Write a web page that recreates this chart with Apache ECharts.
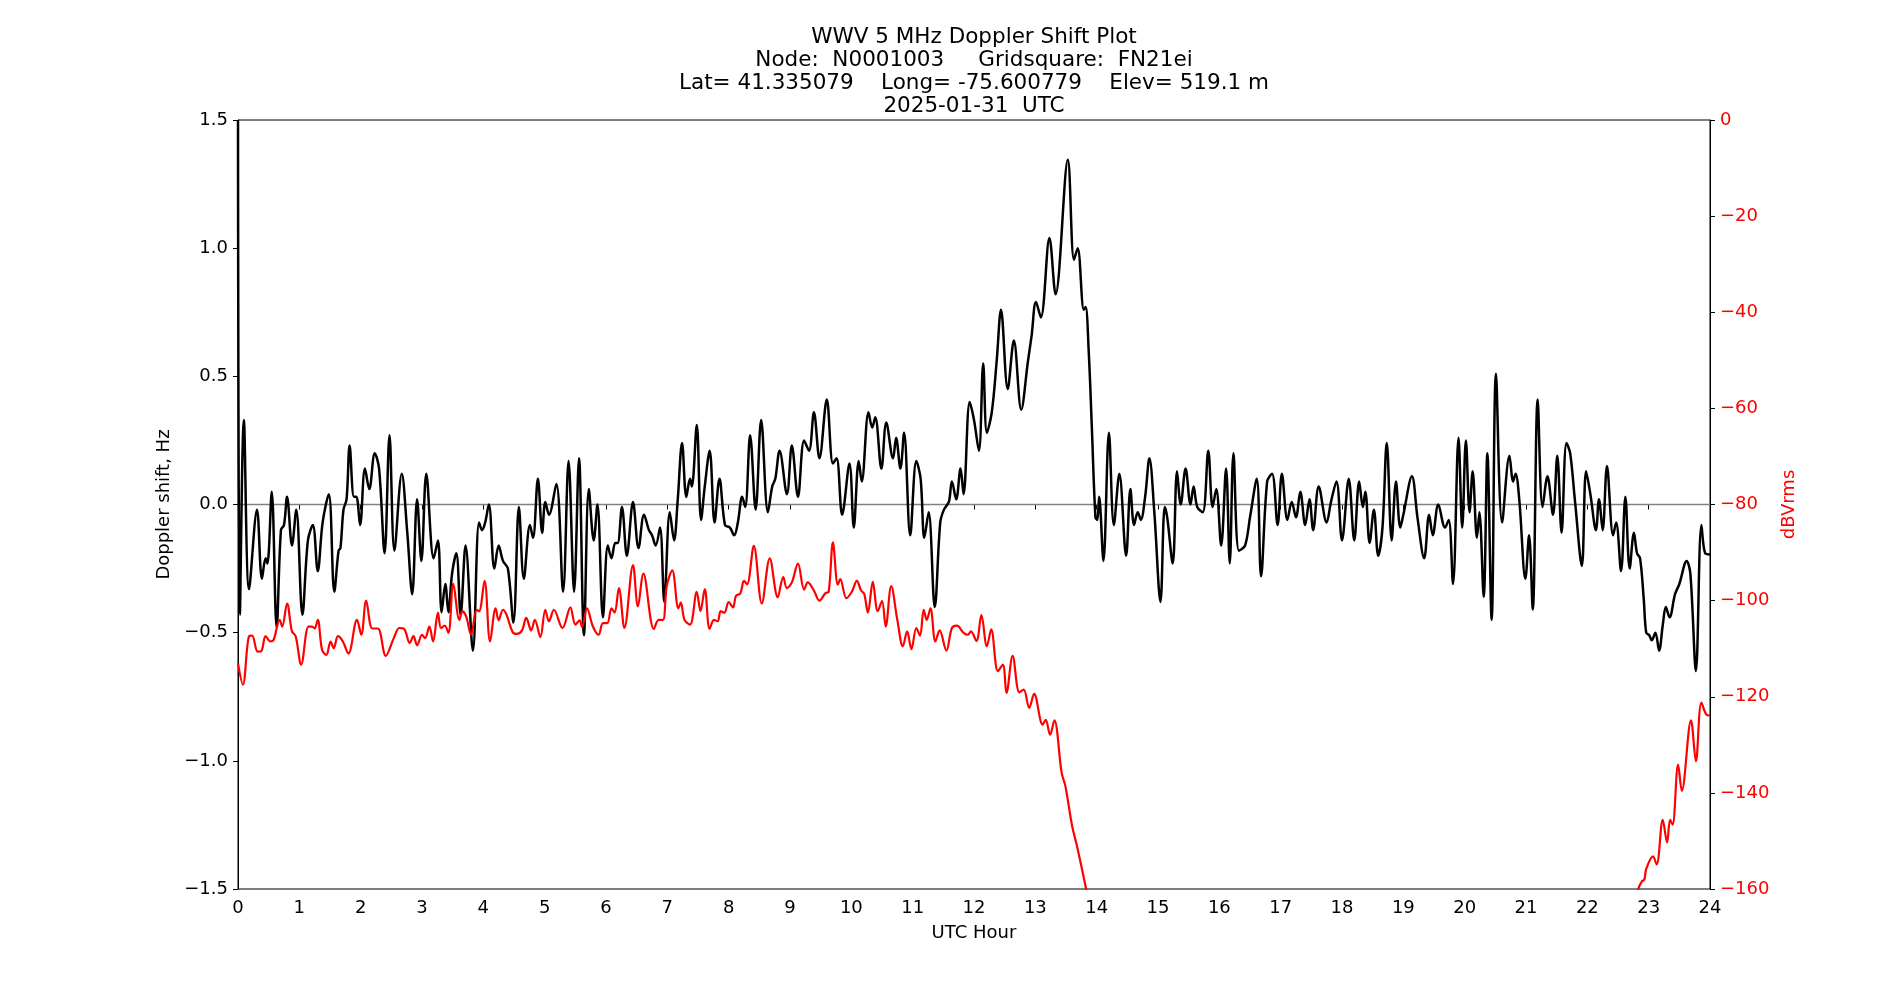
<!DOCTYPE html>
<html><head><meta charset="utf-8">
<script src="https://cdn.jsdelivr.net/npm/echarts@6/dist/echarts.min.js"></script>
<style>html,body{margin:0;padding:0;background:#fff}#c{width:1900px;height:1000px}</style>
</head><body><div id="c"></div>
<script>
const titleLines = [
  'WWV 5 MHz Doppler Shift Plot',
  'Node:  N0001003     Gridsquare:  FN21ei',
  'Lat= 41.335079    Long= -75.600779    Elev= 519.1 m',
  '2025-01-31  UTC'
];
const xLabel = 'UTC Hour';
const leftLabel = 'Doppler shift, Hz';
const rightLabel = 'dBVrms';

const dopplerHours = [0.00,0.03,0.095,0.18,0.31,0.39,0.45,0.48,0.55,0.63,0.70,0.75,0.80,0.88,0.95,1.05,1.14,1.22,1.30,1.38,1.48,1.57,1.64,1.67,1.72,1.77,1.82,1.89,1.93,1.99,2.07,2.14,2.23,2.30,2.39,2.47,2.55,2.67,2.76,2.84,2.92,2.99,3.07,3.19,3.26,3.32,3.38,3.43,3.49,3.56,3.63,3.71,3.83,3.93,3.98,4.03,4.09,4.18,4.25,4.32,4.40,4.49,4.58,4.66,4.76,4.81,4.89,4.96,5.01,5.07,5.19,5.30,5.39,5.48,5.56,5.64,5.72,5.80,5.86,5.95,6.03,6.09,6.15,6.19,6.26,6.34,6.44,6.53,6.62,6.70,6.75,6.81,6.88,6.95,7.04,7.11,7.17,7.24,7.31,7.37,7.40,7.48,7.55,7.61,7.69,7.77,7.85,7.94,8.02,8.09,8.15,8.22,8.27,8.35,8.44,8.53,8.64,8.71,8.76,8.83,8.95,9.03,9.13,9.23,9.31,9.39,9.48,9.60,9.70,9.76,9.85,9.97,10.04,10.12,10.17,10.28,10.34,10.39,10.49,10.57,10.68,10.73,10.80,10.86,10.96,11.06,11.13,11.19,11.26,11.36,11.45,11.51,11.59,11.64,11.71,11.78,11.83,11.93,12.00,12.08,12.15,12.21,12.29,12.37,12.44,12.55,12.65,12.77,12.88,12.94,13.01,13.09,13.23,13.33,13.53,13.63,13.69,13.79,13.82,13.87,13.92,13.98,14.01,14.04,14.11,14.20,14.28,14.37,14.48,14.55,14.61,14.67,14.72,14.79,14.86,14.94,15.04,15.11,15.15,15.24,15.31,15.37,15.45,15.53,15.58,15.64,15.73,15.82,15.89,15.95,16.03,16.11,16.17,16.23,16.32,16.42,16.50,16.61,16.68,16.78,16.86,16.95,17.02,17.11,17.18,17.25,17.32,17.40,17.47,17.53,17.62,17.75,17.82,17.91,18.00,18.11,18.20,18.28,18.34,18.38,18.45,18.52,18.59,18.66,18.73,18.81,18.88,18.95,19.00,19.14,19.23,19.34,19.42,19.48,19.57,19.68,19.74,19.81,19.90,19.96,20.02,20.08,20.13,20.20,20.24,20.31,20.37,20.44,20.51,20.61,20.73,20.79,20.83,20.89,20.99,21.05,21.11,21.19,21.27,21.35,21.44,21.51,21.58,21.66,21.72,21.80,21.91,21.98,22.05,22.14,22.19,22.25,22.32,22.42,22.47,22.55,22.62,22.69,22.76,22.81,22.86,22.92,22.96,23.01,23.05,23.11,23.17,23.23,23.28,23.34,23.43,23.50,23.62,23.68,23.77,23.86,23.92,24.00];
const dopplerHz = [1.50,-0.43,0.33,-0.33,-0.02,-0.29,-0.21,-0.23,0.05,-0.48,-0.10,-0.08,0.03,-0.16,-0.02,-0.43,-0.14,-0.08,-0.26,-0.07,0.04,-0.34,-0.18,-0.17,-0.02,0.02,0.23,0.03,0.03,-0.08,0.14,0.06,0.20,0.14,-0.19,0.27,-0.18,0.12,-0.11,-0.35,0.02,-0.22,0.12,-0.21,-0.14,-0.42,-0.31,-0.42,-0.27,-0.19,-0.43,-0.16,-0.57,-0.07,-0.10,-0.07,0.00,-0.25,-0.16,-0.22,-0.25,-0.46,-0.01,-0.29,-0.08,-0.13,0.10,-0.11,0.01,-0.04,0.08,-0.34,0.17,-0.34,0.18,-0.51,0.06,-0.14,0.00,-0.44,-0.16,-0.21,-0.15,-0.15,-0.01,-0.20,0.01,-0.17,-0.04,-0.10,-0.12,-0.16,-0.09,-0.38,-0.03,-0.14,0.02,0.24,0.03,0.10,0.07,0.31,-0.06,0.07,0.21,-0.07,0.10,-0.08,-0.09,-0.12,-0.07,0.03,-0.01,0.27,-0.02,0.33,-0.03,0.07,0.10,0.21,0.04,0.23,0.03,0.25,0.21,0.36,0.18,0.41,0.16,0.18,-0.04,0.16,-0.09,0.17,0.09,0.36,0.30,0.34,0.14,0.32,0.18,0.26,0.14,0.28,-0.12,0.17,0.10,-0.13,-0.03,-0.40,-0.07,-0.02,0.01,0.09,0.02,0.14,0.04,0.40,0.33,0.21,0.55,0.28,0.36,0.56,0.76,0.45,0.64,0.37,0.56,0.66,0.79,0.73,1.04,0.82,1.345,0.955,1.00,0.76,0.77,0.60,0.31,-0.05,-0.06,0.03,-0.22,0.28,-0.08,0.12,-0.20,0.06,-0.08,-0.03,-0.06,0.03,0.18,-0.03,-0.38,-0.01,-0.05,-0.23,0.13,0.00,0.14,0.00,0.07,-0.01,-0.03,0.21,-0.01,0.06,-0.16,0.14,-0.23,0.20,-0.18,-0.16,-0.05,0.10,-0.28,0.09,0.12,-0.08,0.12,-0.06,0.01,-0.05,0.05,-0.08,0.02,-0.10,0.07,-0.07,0.01,0.09,-0.14,0.10,-0.14,0.09,-0.01,0.05,-0.15,-0.02,-0.20,-0.09,0.24,-0.14,0.09,-0.09,-0.04,0.11,-0.05,-0.21,-0.04,-0.12,0.00,-0.09,-0.06,-0.31,0.26,-0.09,0.25,-0.03,0.13,-0.13,-0.03,-0.36,0.20,-0.45,0.51,-0.07,0.19,0.09,0.12,0.02,-0.29,-0.12,-0.41,0.41,-0.01,0.11,-0.04,0.19,-0.11,0.24,0.20,0.01,-0.24,0.13,0.04,-0.10,0.02,-0.10,0.15,-0.12,-0.07,-0.26,0.03,-0.25,-0.11,-0.19,-0.21,-0.37,-0.50,-0.51,-0.53,-0.50,-0.57,-0.47,-0.40,-0.44,-0.35,-0.31,-0.22,-0.27,-0.65,-0.08,-0.19,-0.195];

const powerHours = [0.00,0.08,0.18,0.23,0.32,0.38,0.45,0.53,0.58,0.68,0.72,0.80,0.88,0.94,1.03,1.15,1.21,1.25,1.30,1.37,1.44,1.51,1.56,1.63,1.71,1.80,1.94,2.01,2.09,2.19,2.28,2.41,2.54,2.63,2.71,2.80,2.86,2.92,3.00,3.05,3.12,3.18,3.26,3.31,3.37,3.43,3.51,3.61,3.66,3.72,3.80,3.89,3.93,4.02,4.11,4.20,4.25,4.32,4.38,4.48,4.55,4.63,4.70,4.78,4.84,4.93,5.01,5.07,5.15,5.29,5.42,5.50,5.57,5.61,5.69,5.79,5.88,5.95,6.02,6.09,6.14,6.21,6.30,6.44,6.52,6.61,6.78,6.86,6.93,6.99,7.08,7.18,7.22,7.28,7.37,7.48,7.54,7.61,7.69,7.76,7.82,7.87,7.93,8.00,8.07,8.12,8.19,8.25,8.30,8.41,8.54,8.67,8.80,8.89,8.95,9.03,9.13,9.23,9.29,9.39,9.48,9.58,9.63,9.70,9.78,9.82,9.92,10.01,10.09,10.16,10.21,10.27,10.35,10.43,10.50,10.56,10.65,10.75,10.84,10.91,10.98,11.06,11.12,11.18,11.23,11.29,11.37,11.44,11.55,11.64,11.72,11.83,11.90,11.95,12.04,12.12,12.21,12.28,12.39,12.47,12.53,12.63,12.74,12.81,12.90,12.98,13.12,13.17,13.24,13.31,13.43,13.49,13.60,13.68,13.83,13.90,18.00,22.78,22.83,22.89,22.93,22.96,23.07,23.13,23.23,23.30,23.35,23.39,23.48,23.54,23.69,23.77,23.86,23.94,24.00];
const powerDb = [-113.0,-117.5,-107.4,-107.3,-110.6,-110.5,-107.4,-108.5,-108.2,-104.0,-105.4,-100.6,-106.4,-107.4,-113.3,-105.4,-105.4,-105.8,-104.0,-110.2,-111.3,-108.5,-109.9,-107.4,-108.5,-111.0,-104.0,-107.1,-100.0,-105.8,-105.8,-111.5,-107.8,-105.7,-105.9,-108.8,-107.4,-109.3,-107.1,-107.8,-105.4,-108.5,-102.5,-105.7,-105.2,-106.7,-96.5,-104.0,-102.2,-103.3,-107.1,-101.9,-102.2,-95.9,-108.5,-101.6,-104.1,-101.9,-103.0,-106.6,-106.9,-106.2,-103.6,-106.2,-104.0,-107.6,-101.9,-104.3,-101.9,-105.7,-101.4,-105.0,-104.1,-105.5,-101.6,-105.5,-107.1,-104.7,-104.7,-101.6,-102.5,-97.4,-105.7,-92.6,-101.2,-94.4,-105.9,-104.0,-104.0,-97.0,-93.7,-101.6,-100.4,-104.0,-105.0,-98.2,-102.2,-97.6,-105.9,-104.0,-104.3,-102.2,-102.5,-100.3,-101.4,-99.0,-98.5,-95.9,-96.6,-88.6,-100.6,-91.2,-99.3,-95.1,-97.4,-96.2,-92.3,-97.7,-96.2,-97.9,-100.0,-98.4,-98.2,-87.9,-96.7,-95.5,-99.5,-98.1,-95.9,-97.9,-98.6,-102.5,-96.1,-102.2,-100.1,-105.4,-97.0,-104.0,-109.5,-106.4,-110.1,-105.7,-107.3,-101.9,-104.0,-101.6,-108.5,-106.2,-110.4,-105.7,-105.2,-106.7,-107.1,-106.4,-108.4,-103.0,-109.5,-106.0,-114.7,-113.3,-119.2,-111.5,-119.1,-118.5,-122.3,-119.4,-125.8,-124.8,-127.9,-124.9,-135.9,-138.6,-146.9,-151.1,-160.1,-165,null,-165,-160.0,-158.4,-158.0,-155.8,-153.2,-154.9,-145.6,-150.3,-145.6,-146.6,-134.1,-139.6,-124.9,-133.4,-121.2,-123.7,-123.9];

const zeroLine = [[0, 0], [24, 0]];

const FONT = 'DejaVu Sans';
const minus = s => String(s).replace('-', '\u2212');
const pair = (xs, ys) => xs.map((x, i) => [x, ys[i]]);

const chart = echarts.init(document.getElementById('c'), null, {renderer: 'canvas'});
chart.setOption({
  animation: false,
  backgroundColor: '#ffffff',
  title: {
    text: titleLines.join('\n'),
    left: 969, top: 21, textAlign: 'center',
    textStyle: {fontFamily: FONT, fontSize: 21.5, fontWeight: 'normal', color: '#000', lineHeight: 23}
  },
  grid: {left: 238, right: 190, top: 120, bottom: 111, show: true, borderColor: '#000', borderWidth: 1, containLabel: false},
  xAxis: {
    type: 'value', min: 0, max: 24, interval: 1,
    name: xLabel, nameLocation: 'middle', nameGap: 35,
    nameTextStyle: {fontFamily: FONT, fontSize: 18, color: '#000'},
    axisLine: {show: true, lineStyle: {color: '#000', width: 1}},
    axisTick: {show: true, inside: false, length: 5, lineStyle: {color: '#000'}},
    axisLabel: {fontFamily: FONT, fontSize: 18, color: '#000', margin: 10},
    splitLine: {show: false}
  },
  yAxis: [{
    type: 'value', min: -1.5, max: 1.5, interval: 0.5, position: 'left',
    name: leftLabel, nameLocation: 'middle', nameGap: 58, nameRotate: 90,
    nameTextStyle: {fontFamily: FONT, fontSize: 18, color: '#000'},
    axisLine: {show: true, lineStyle: {color: '#000', width: 1}},
    axisTick: {show: true, inside: false, length: 5, lineStyle: {color: '#000'}},
    axisLabel: {fontFamily: FONT, fontSize: 18, color: '#000', margin: 10, formatter: v => minus(v.toFixed(1))},
    splitLine: {show: false}
  }, {
    type: 'value', min: -160, max: 0, interval: 20, position: 'right',
    name: rightLabel, nameLocation: 'middle', nameGap: 57, nameRotate: 90,
    nameTextStyle: {fontFamily: FONT, fontSize: 18, color: '#ff0000'},
    axisLine: {show: true, lineStyle: {color: '#000', width: 1}},
    axisTick: {show: true, inside: false, length: 5, lineStyle: {color: '#000'}},
    axisLabel: {fontFamily: FONT, fontSize: 18, color: '#ff0000', margin: 10, formatter: v => minus(v)},
    splitLine: {show: false}
  }],
  series: [{
    type: 'line', name: 'zero', data: zeroLine, yAxisIndex: 0, z: 1,
    showSymbol: false, silent: true,
    lineStyle: {color: '#808080', width: 1.5}
  }, {
    type: 'line', name: 'Doppler', data: pair(dopplerHours, dopplerHz), yAxisIndex: 0, z: 2,
    showSymbol: false, smooth: 0.35, clip: true,
    lineStyle: {color: '#000', width: 2.5}
  }, {
    type: 'line', name: 'Power', data: pair(powerHours, powerDb), yAxisIndex: 1, z: 3,
    showSymbol: false, smooth: 0.35, clip: true, connectNulls: false,
    lineStyle: {color: '#ff0000', width: 2.2}
  }]
});
</script>
</body></html>
